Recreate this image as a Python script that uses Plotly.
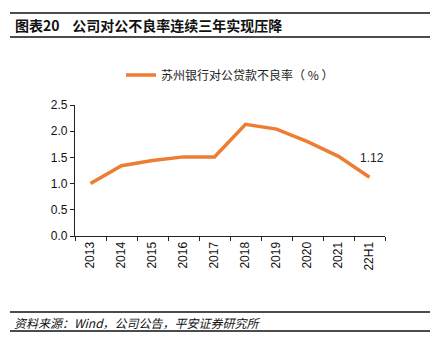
import plotly.graph_objects as go

categories = ["2013", "2014", "2015", "2016", "2017", "2018", "2019", "2020", "2021", "22H1"]
npl_ratio = [1.00, 1.34, 1.44, 1.51, 1.51, 2.13, 2.04, 1.80, 1.52, 1.12]
series_name = "苏州银行对公贷款不良率（ % ）"
title_text = "图表20    公司对公不良率连续三年实现压降"
source_text = "资料来源：Wind，公司公告，平安证券研究所"

W, H = 432, 354
L, R, T, B = 75, 385, 105, 236

def px(x):
    return (x - L) / (R - L)

def py(y):
    return (B - y) / (B - T)

fig = go.Figure()
fig.add_trace(go.Scatter(
    x=categories, y=npl_ratio, mode="lines", name=series_name,
    line=dict(color="#EE7D33", width=3.5),
))

fig.add_annotation(x=categories[-1], y=npl_ratio[-1], text=f"{npl_ratio[-1]:.2f}",
                   showarrow=False, yshift=19, xshift=2,
                   font=dict(size=12, color="#222", family="Liberation Sans, Arial"))

# title / source text
fig.add_annotation(x=px(13), y=py(25), xref="paper", yref="paper", text=f"<b>{title_text}</b>",
                   showarrow=False, xanchor="left", yanchor="middle",
                   font=dict(size=14, color="#111", family="Noto Sans CJK SC"))
fig.add_annotation(x=px(12), y=py(322), xref="paper", yref="paper", text=f"<i>{source_text}</i>",
                   showarrow=False, xanchor="left", yanchor="middle",
                   font=dict(size=12, color="#111", family="Noto Sans CJK SC"))

for yy, w in [(13, 1.5), (37, 1.5), (312, 1.5), (331, 1.5)]:
    fig.add_shape(type="line", xref="paper", yref="paper", x0=px(10), x1=px(430),
                  y0=py(yy), y1=py(yy), line=dict(color="#111", width=w))

fig.update_layout(
    width=W, height=H,
    margin=dict(l=L, r=W - R, t=T, b=H - B),
    paper_bgcolor="white", plot_bgcolor="white",
    showlegend=True,
    legend=dict(orientation="h", x=0.5, y=py(75), xanchor="center", yanchor="middle",
                font=dict(size=12, color="#222", family="Noto Sans CJK SC"),
                bgcolor="rgba(0,0,0,0)"),
    font=dict(family="Liberation Sans, Arial", size=12, color="#111"),
)
fig.update_xaxes(type="category", range=[-0.5, len(categories) - 0.5],
                 showline=True, linecolor="#222", linewidth=1.2,
                 ticks="outside", ticklen=4, tickcolor="#222", tickson="boundaries",
                 tickangle=-90, showgrid=False, tickfont=dict(size=12, color="#111"))
fig.update_yaxes(range=[0, 2.5], dtick=0.5, tickformat=".1f", showline=True,
                 linecolor="#222", linewidth=1.2, ticks="outside", ticklen=4,
                 tickcolor="#222", showgrid=False, zeroline=False,
                 tickfont=dict(size=12, color="#111"))

fig.write_html("out.html")
